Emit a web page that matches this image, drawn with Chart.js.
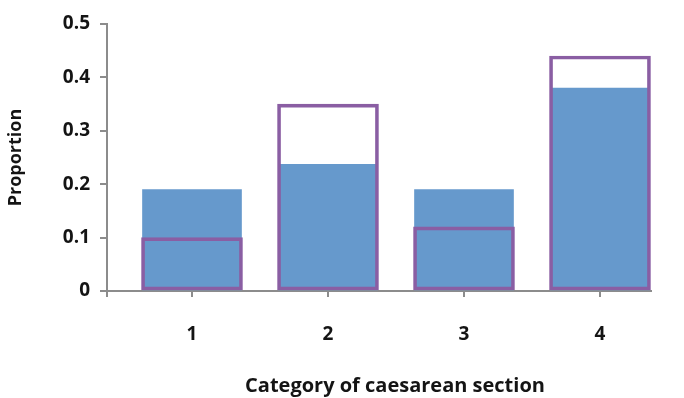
<!DOCTYPE html>
<html>
<head>
<meta charset="utf-8">
<script src="https://cdn.jsdelivr.net/npm/chart.js@4"></script>
<style>
  html, body { margin: 0; padding: 0; background: #fff; }
  #wrap { width: 684px; height: 398px; }
</style>
</head>
<body>
<div id="wrap"><canvas id="chart" width="684" height="398"></canvas></div>
<script>
// Données
const categories = [1, 2, 3, 4];
const blueValues = [0.19, 0.237, 0.19, 0.38];
const purpleValues = [0.10, 0.35, 0.12, 0.44];
const yTicks = [0, 0.1, 0.2, 0.3, 0.4, 0.5];

const axisColor = '#8c8c8c';
const textColor = '#141414';
const font = { family: 'Open Sans', weight: 'bold', size: 19 };

// titre de l'axe X dessiné à la main (décalé comme sur l'original)
const xTitlePlugin = {
    id: 'xTitle',
    afterDraw(chart) {
        const ctx = chart.ctx;
        const area = chart.chartArea;
        ctx.save();
        ctx.font = 'bold 20px "Open Sans"';
        ctx.fillStyle = textColor;
        ctx.textAlign = 'center';
        ctx.textBaseline = 'middle';
        ctx.fillText('Category of caesarean section', (area.left + area.right) / 2 + 16, area.bottom + 95);
        ctx.restore();
    }
};

const ctx = document.getElementById('chart').getContext('2d');
new Chart(ctx, {
    type: 'bar',
    data: {
        datasets: [{
            label: 'Expected',
            data: categories.map((c, i) => ({ x: c, y: purpleValues[i] })),
            backgroundColor: 'rgba(0,0,0,0)',
            borderColor: '#8a5ea3',
            borderWidth: 3,
            borderSkipped: false,
            barThickness: 101,
            grouped: false,
            order: 0
        }, {
            label: 'Observed',
            data: categories.map((c, i) => ({ x: c, y: blueValues[i] })),
            backgroundColor: '#6699cc',
            borderWidth: 0,
            barThickness: 99,
            grouped: false,
            order: 1
        }]
    },
    options: {
        responsive: false,
        animation: false,
        layout: { padding: { top: 24, right: 33, left: 0, bottom: 0 } },
        plugins: { legend: { display: false }, tooltip: { enabled: false } },
        scales: {
            x: {
                type: 'linear',
                min: 0.375,
                max: 4.375,
                offset: false,
                afterBuildTicks: (s) => { s.ticks = [0.375].concat(categories).map(v => ({ value: v })); },
                afterFit: (s) => { s.height = 107; },
                ticks: {
                    color: textColor,
                    font: font,
                    padding: 26,
                    callback: (v) => categories.includes(v) ? String(v) : ''
                },
                grid: { drawOnChartArea: false, offset: false, color: axisColor, lineWidth: 2, tickLength: 6 },
                border: { color: axisColor, width: 2 }
            },
            y: {
                min: 0,
                max: 0.5,
                afterBuildTicks: (s) => { s.ticks = yTicks.map(v => ({ value: v })); },
                afterFit: (s) => { s.width = 107; },
                ticks: {
                    color: textColor,
                    font: font,
                    padding: 10,
                    callback: (v) => String(Math.round(v * 10) / 10)
                },
                grid: { drawOnChartArea: false, color: axisColor, lineWidth: 2, tickLength: 7 },
                border: { color: axisColor, width: 2 },
                title: {
                    display: true,
                    text: 'Proportion',
                    color: textColor,
                    font: { family: 'Open Sans', weight: 'bold', size: 18 },
                    padding: { top: 5, bottom: 0 }
                }
            }
        }
    },
    plugins: [xTitlePlugin]
});
</script>
</body>
</html>
